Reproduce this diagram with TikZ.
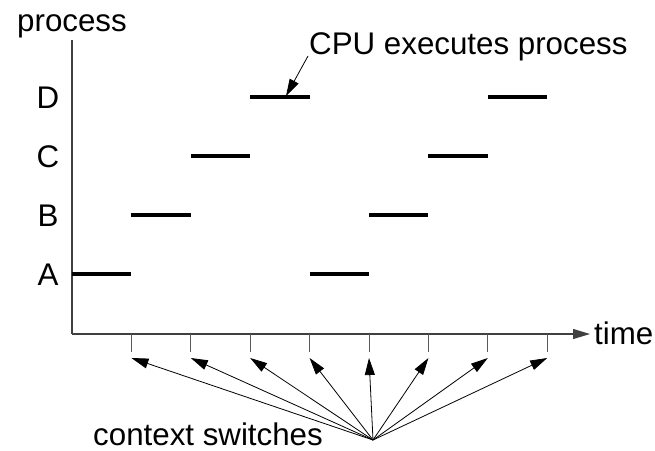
\documentclass[tikz,border=0pt]{standalone}
\usepackage{fontspec}
\setmainfont{Liberation Sans}
\usetikzlibrary{arrows.meta}
\tikzset{
  axisline/.style={line width=1.1pt, black!75},
  tickline/.style={line width=0.9pt, black!65},
  runseg/.style={line width=3.8pt, black},
  ptr/.style={line width=0.8pt, black, -{Triangle[length=17pt,width=10pt]}},
  lbl/.style={inner sep=0pt, font=\fontsize{31.3}{35}\selectfont},
}
\begin{document}
\begin{tikzpicture}[x=1pt,y=-1pt]
\useasboundingbox (0,0) rectangle (655,450);
% axes
\coordinate (origin) at (72,334);
\coordinate (ytop) at (72,40);
\coordinate (xend) at (590,334);
\draw[axisline] (ytop) -- (origin);
\draw[axisline,-{Triangle[length=17pt,width=10pt]}] (origin) -- (xend);
% labels
\node[lbl,anchor=base] (process) at (72,31) {process};
\node[lbl,anchor=base] (lD) at (48,108.5) {D};
\node[lbl,anchor=base] (lC) at (48,167.5) {C};
\node[lbl,anchor=base] (lB) at (48,226.5) {B};
\node[lbl,anchor=base] (lA) at (48,285.5) {A};
\node[lbl,anchor=base west] (time) at (594,344.5) {time};
\node[lbl,anchor=base west] (ctx) at (93,445) {context switches};
\node[lbl,anchor=base west] (cpu) at (309,54.5) {CPU executes process};
% ticks and switch points
\foreach \i in {0,...,8} {
  \coordinate (t\i) at ({72+59.4*\i},334);
}
\foreach \i in {1,...,8} {
  \coordinate (b\i) at ({72+59.4*\i},352);
  \coordinate (p\i) at ({72+59.4*\i},358);
  \draw[tickline] (t\i) -- (b\i);
}
% run segments
\coordinate (s0) at (t0 |- 0,274); \coordinate (e0) at (t1 |- 0,274);
\coordinate (s1) at (t1 |- 0,215); \coordinate (e1) at (t2 |- 0,215);
\coordinate (s2) at (t2 |- 0,156); \coordinate (e2) at (t3 |- 0,156);
\coordinate (s3) at (t3 |- 0,97);  \coordinate (e3) at (t4 |- 0,97);
\coordinate (s4) at (t4 |- 0,274); \coordinate (e4) at (t5 |- 0,274);
\coordinate (s5) at (t5 |- 0,215); \coordinate (e5) at (t6 |- 0,215);
\coordinate (s6) at (t6 |- 0,156); \coordinate (e6) at (t7 |- 0,156);
\coordinate (s7) at (t7 |- 0,97);  \coordinate (e7) at (t8 |- 0,97);
\foreach \i in {0,...,7} {
  \draw[runseg] (s\i) -- (e\i);
}
% context switch arrows
\coordinate (hub) at (373,440);
\foreach \i in {1,...,8} {
  \draw[ptr] (hub) -- (p\i);
}
% CPU executes pointer
\coordinate (cpufrom) at (308,56);
\coordinate (cputo) at (286,96);
\draw[ptr] (cpufrom) -- (cputo);
\end{tikzpicture}
\end{document}
